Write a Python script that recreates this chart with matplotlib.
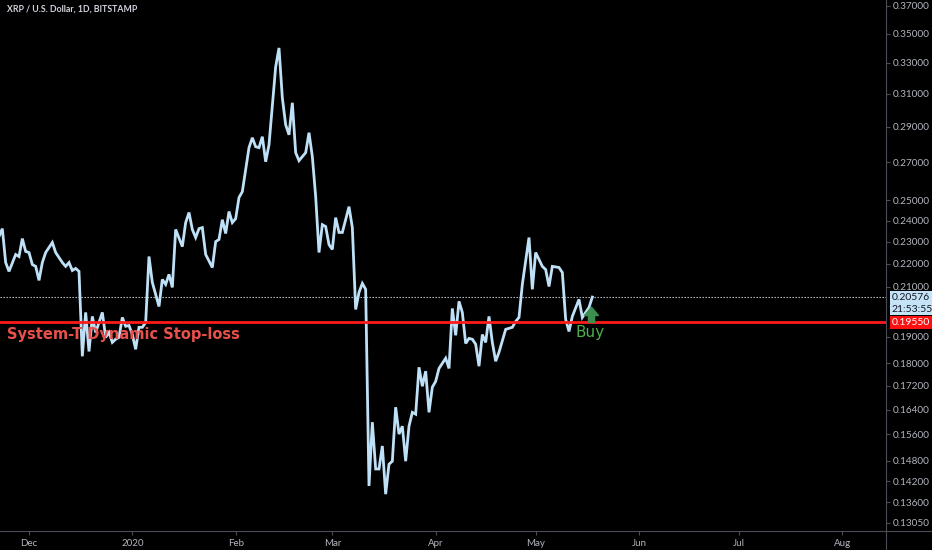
import numpy as np
import pandas as pd
import matplotlib
matplotlib.use('Agg')
from matplotlib import pyplot as plt
from matplotlib.path import Path
from matplotlib.lines import Line2D
import matplotlib.dates as mdates
import matplotlib.ticker as mticker

plt.rcParams['font.family'] = ['Lato', 'DejaVu Sans']

# 日线收盘价，天数为距 2019-12-01 的天数
start = pd.Timestamp('2019-12-01')
days = [-10, -9, -8, -7, -6, -4, -3, -2, -1, 0, 1, 2, 3, 4, 5, 7, 8, 10, 11, 12,
        13, 14, 15, 16, 17, 18, 19, 20, 21, 22, 23, 24, 25, 26, 27, 28, 29, 30, 31, 32,
        33, 34, 35, 36, 37, 39, 40, 41, 42, 43, 44, 46, 47, 48, 49, 50, 51, 52, 53, 55,
        56, 57, 58, 59, 60, 61, 62, 63, 64, 66, 67, 68, 69, 70, 71, 72, 74, 75, 76, 77,
        78, 79, 80, 81, 83, 84, 85, 86, 87, 88, 89, 90, 91, 92, 93, 94, 96, 97, 98, 99,
        100, 101, 102, 103, 104, 105, 106, 107, 108, 109, 110, 111, 112, 113, 114, 115, 116, 117, 118, 119,
        120, 121, 122, 123, 125, 126, 127, 128, 129, 130, 131, 132, 133, 134, 135, 136, 137, 138, 139, 140,
        141, 143, 145, 146, 147, 148, 150, 151, 152, 154, 155, 156, 157, 159, 160, 161, 162, 163, 165, 166,
        168, 169]
close = [0.2297, 0.2325, 0.2362, 0.2206, 0.2167, 0.2242, 0.2233, 0.2315, 0.2256, 0.2251,
         0.2197, 0.2189, 0.2128, 0.2206, 0.2251, 0.2297, 0.2251, 0.2206, 0.2189, 0.2206,
         0.2171, 0.2180, 0.2167, 0.1826, 0.1995, 0.1844, 0.1979, 0.1916, 0.1955, 0.1995,
         0.1897, 0.1916, 0.1878, 0.1890, 0.1897, 0.1975, 0.1940, 0.1943, 0.1908, 0.1852,
         0.1936, 0.1936, 0.1955, 0.2233, 0.2119, 0.2019, 0.2132, 0.2111, 0.2154, 0.2098,
         0.2358, 0.2278, 0.2391, 0.2440, 0.2358, 0.2320, 0.2362, 0.2367, 0.2242, 0.2184,
         0.2301, 0.2311, 0.2405, 0.2339, 0.2445, 0.2391, 0.2410, 0.2515, 0.2545, 0.2781,
         0.2837, 0.2786, 0.2781, 0.2843, 0.2703, 0.2797, 0.3273, 0.3400, 0.3075, 0.2912,
         0.2854, 0.3044, 0.2753, 0.2709, 0.2753, 0.2866, 0.2731, 0.2520, 0.2251, 0.2381,
         0.2372, 0.2287, 0.2265, 0.2415, 0.2344, 0.2344, 0.2469, 0.2367, 0.2007, 0.2077,
         0.2115, 0.2090, 0.1406, 0.1599, 0.1455, 0.1455, 0.1524, 0.1383, 0.1469, 0.1478,
         0.1648, 0.1561, 0.1586, 0.1478, 0.1586, 0.1631, 0.1625, 0.1786, 0.1719, 0.1772,
         0.1631, 0.1716, 0.1736, 0.1782, 0.1819, 0.1782, 0.2011, 0.1905, 0.2040, 0.1995,
         0.1874, 0.1893, 0.1890, 0.1871, 0.1790, 0.1908, 0.1878, 0.1979, 0.1878, 0.1808,
         0.1841, 0.1928, 0.1936, 0.1959, 0.1975, 0.2111, 0.2320, 0.2090, 0.2251, 0.2189,
         0.2175, 0.2102, 0.2189, 0.2184, 0.2162, 0.1967, 0.1920, 0.1979, 0.2048, 0.1975,
         0.2015, 0.20576]

last_price = 0.20576
stop_price = 0.19550
countdown = '21:53:55'
title = 'XRP / U.S. Dollar, 1D, BITSTAMP'
stop_label = 'System-T Dynamic Stop-loss'
buy_day = 168.7
buy_price = 0.1985

y_ticks = [0.37, 0.35, 0.33, 0.31, 0.29, 0.27, 0.25, 0.24, 0.23, 0.22, 0.21,
           0.19, 0.18, 0.172, 0.164, 0.156, 0.148, 0.142, 0.136, 0.1305]
month_ticks = ['2019-12-01', '2020-01-01', '2020-02-01', '2020-03-01', '2020-04-01',
               '2020-05-01', '2020-06-01', '2020-07-01', '2020-08-01']
month_labels = ['Dec', '2020', 'Feb', 'Mar', 'Apr', 'May', 'Jun', 'Jul', 'Aug']

dates = start + pd.to_timedelta(days, unit='D')

bg = '#000000'
txt = '#b2b5be'
grey = '#4a4d55'

fig = plt.figure(figsize=(9.32, 5.5), dpi=100, facecolor=bg)
ax = fig.add_axes([0.0, 19 / 550, 886 / 932, 531 / 550])
ax.set_facecolor(bg)

ax.plot(dates, close, color='#bfe1f7', lw=2.0, solid_joinstyle='miter', zorder=3)

ax.set_yscale('log')
ax.set_ylim(0.1284, 0.3745)
ax.set_xlim(start - pd.Timedelta(days=8.7), start + pd.Timedelta(days=257.1))

# 当前价与止损线
ax.axhline(last_price, color='#cfd2d8', lw=0.8, ls=(0, (1.2, 1.5)), zorder=2)
ax.axhline(stop_price, color='#ff1a1a', lw=2.0, zorder=4)

ax.text(0.008, 0.1908, stop_label, transform=ax.get_yaxis_transform(), family='DejaVu Sans',
        color='#e8504c', fontsize=10.5, fontweight='bold', va='center', ha='left', zorder=5)
ax.text(0.008, 0.982, title, transform=ax.transAxes, color='#d1d4dc',
        fontsize=6.3, fontweight='bold', va='center', ha='left')

# Buy 标记
arrow = Path([(-0.5, 0.0), (0.0, 0.6), (0.5, 0.0), (0.22, 0.0), (0.22, -0.5),
              (-0.22, -0.5), (-0.22, 0.0), (-0.5, 0.0)])
ax.plot([start + pd.Timedelta(days=buy_day)], [buy_price], marker=arrow,
        markersize=12, color='#3e8e4f', ls='none', zorder=5)
ax.text(start + pd.Timedelta(days=buy_day - 0.4), 0.1915, 'Buy', color='#4caf50',
        family='DejaVu Sans', fontsize=11, ha='center', va='center', zorder=5)

# 坐标轴
ax.yaxis.tick_right()
ax.yaxis.set_major_locator(mticker.FixedLocator(y_ticks))
ax.yaxis.set_minor_locator(mticker.NullLocator())
ax.yaxis.set_major_formatter(mticker.FormatStrFormatter('%.5f'))
ax.tick_params(axis='y', colors=grey, labelcolor=txt, labelsize=7.2, length=3, pad=2)

ax.xaxis.set_major_locator(mticker.FixedLocator(mdates.date2num(pd.to_datetime(month_ticks))))
ax.xaxis.set_major_formatter(mticker.FixedFormatter(month_labels))
ax.tick_params(axis='x', colors=grey, labelcolor=txt, labelsize=7, length=3, pad=3)

for s in ['top', 'left']:
    ax.spines[s].set_visible(False)
ax.spines['right'].set_color(grey)
ax.spines['bottom'].set_color(grey)

# 价格标签
tags = [(last_price, '%.5f' % last_price, '#c4e3f7', '#131722', 0),
        (last_price, countdown, '#c4e3f7', '#131722', -8.6),
        (stop_price, '%.5f' % stop_price, '#ff1010', '#ffffff', 0)]
for val, label, fc, tc, dy in tags:
    ax.annotate(label, xy=(1.0, val), xycoords=ax.get_yaxis_transform(),
                xytext=(4, dy), textcoords='offset points', color=tc, fontsize=7.5,
                va='center', ha='left', annotation_clip=False, zorder=6,
                bbox=dict(boxstyle='square,pad=0.18', fc=fc, ec='none'))

# 右侧面板的延长线
fig.add_artist(Line2D([886 / 932, 1.0], [19 / 550, 19 / 550], color=grey, lw=0.8))
fig.add_artist(Line2D([886 / 932, 886 / 932], [0, 19 / 550], color=grey, lw=0.8))

fig.savefig('out.png', dpi=100, facecolor=bg)
